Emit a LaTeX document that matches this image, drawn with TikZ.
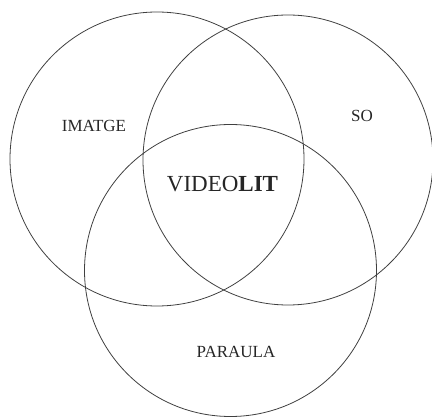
\documentclass[tikz,border=0pt]{standalone}
\usepackage{fontspec}
\setmainfont{Liberation Serif}
\begin{document}
\begin{tikzpicture}[x=1pt,y=-1pt,
  ring/.style={draw=black!75,line width=0.8pt},
  lbl/.style={font=\fontsize{17}{17}\selectfont,text=black!85,inner sep=0pt},
  bigl/.style={font=\fontsize{23}{23}\selectfont,text=black!85,inner sep=0pt}]
\useasboundingbox (0,0) rectangle (432,417);
\draw[ring] (157,159) circle (147);
\draw[ring] (288,160) circle (145);
\draw[ring] (230.5,270.5) circle (146);
\node[lbl] (imatge) at (94,126) {IMATGE};
\node[lbl] (so) at (362,116) {SO};
\node[lbl] (paraula) at (236,352) {PARAULA};
\node[bigl] (videolit) at (222.5,184) {VIDEO\textbf{LIT}};
\end{tikzpicture}
\end{document}
